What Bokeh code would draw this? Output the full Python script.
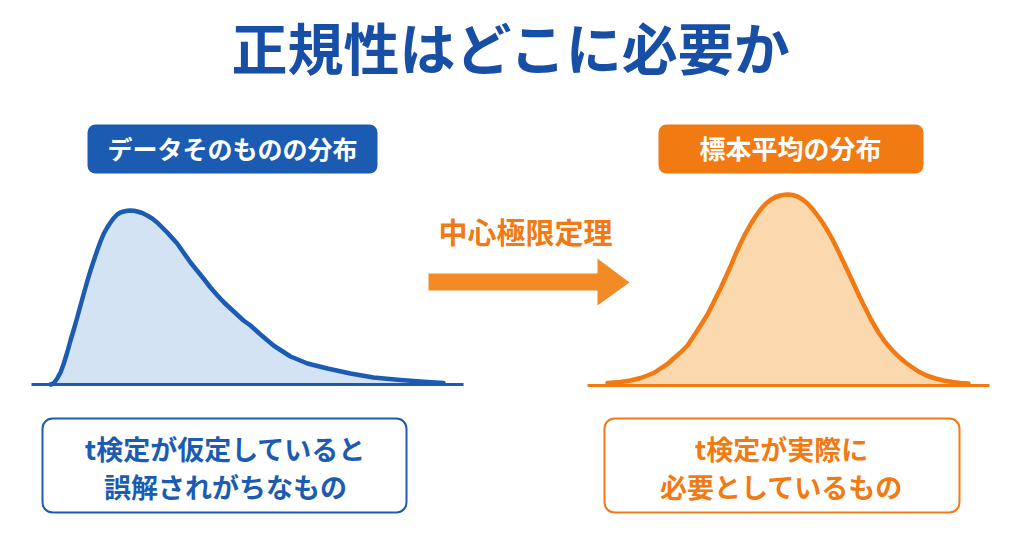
from bokeh.plotting import figure
from bokeh.models import Range1d
from bokeh.embed import file_html
from bokeh.resources import INLINE
from bokeh.core.properties import value

# ---- data ----
title = "正規性はどこに必要か"
left_label = "データそのものの分布"
right_label = "標本平均の分布"
arrow_label = "中心極限定理"
left_note = ["t検定が仮定していると", "誤解されがちなもの"]
right_note = ["t検定が実際に", "必要としているもの"]

# skewed data distribution (x position, curve height)
skew_x = [50, 53, 56.7, 60, 63.3, 66.7, 70, 73.3, 76.7, 80, 83.3, 86.7, 90, 93.3, 96.7,
          100, 103.3, 106.7, 110, 113.3, 116.7, 120, 123.3, 126.7, 130, 133.3, 136.7,
          141.7, 146.7, 151.7, 156.7, 161.7, 166.7, 171.7, 176.7, 183, 190, 196.5, 203,
          210, 217, 223.5, 230, 236.5, 243, 250, 260, 273, 290, 307, 327, 350, 373, 400,
          427, 443]
skew_y = [384, 383, 378, 372, 363, 352, 340, 329, 317, 305, 293, 281, 270, 260, 250,
          241, 233, 227, 222, 217.5, 214, 212, 211, 210.3, 210, 210.3, 211,
          212.5, 215, 218, 222, 227, 232, 237.5, 243, 252, 262, 270, 278,
          287, 295, 302, 308, 314, 320, 325, 334, 345, 356, 363, 368, 373, 377, 379.5,
          381.5, 382.5]

# normal sampling distribution
norm_x = [607, 620, 630, 640, 647, 654, 660, 667, 673, 680, 687, 693, 700, 707, 713,
          720, 725, 730, 735, 740, 745, 750, 755, 760, 765, 770, 775, 780, 784, 788,
          792, 797, 802, 807, 812, 817, 822, 827, 832, 837, 842, 847, 853, 859, 865,
          871, 878, 885, 892, 898, 905, 912, 918, 926, 935, 943, 952, 960, 968]
norm_y = [382.5, 381.5, 380, 377.5, 375, 372, 368, 363.5, 358, 352, 345, 336, 325, 314, 302,
          288, 277, 266, 254, 243, 233, 224, 216, 209, 203.5, 199.5, 196.5, 195, 194.3, 194,
          194.5, 196, 199, 203, 208.5, 215, 222, 230, 239, 249, 259.5, 270, 283, 296, 308,
          320, 332, 342, 350, 356, 362, 367, 371, 375, 378, 380, 381.5, 382.5, 383]

BLUE = "#1b5cb2"
BLUE_TITLE = "#174ea6"
BLUE_FILL = "#d3e3f4"
ORANGE = "#f27a12"
ORANGE_ARROW = "#f28a26"
ORANGE_FILL = "#fbd8ae"
FONT = value("Noto Sans CJK JP")

p = figure(width=1008, height=543, output_backend="svg", toolbar_location=None,
           x_range=Range1d(0, 1008), y_range=Range1d(543, 0),
           min_border=0, background_fill_color="white", border_fill_color="white")
p.axis.visible = False
p.grid.visible = False
p.outline_line_color = None

# title
p.text(x=[511], y=[45], text=[title], text_font=FONT, text_font_style="bold",
       text_font_size="56px", text_color=BLUE_TITLE, text_align="center",
       text_baseline="middle")

# header boxes
p.quad(left=[87], right=[377], top=[124], bottom=[173], fill_color=BLUE,
       line_color=None, border_radius=8)
p.quad(left=[658], right=[923], top=[124], bottom=[173], fill_color=ORANGE,
       line_color=None, border_radius=8)
p.text(x=[232], y=[147], text=[left_label], text_font=FONT, text_font_style="bold",
       text_font_size="25px", text_color="white", text_align="center",
       text_baseline="middle")
p.text(x=[790], y=[147], text=[right_label], text_font=FONT, text_font_style="bold",
       text_font_size="26px", text_color="white", text_align="center",
       text_baseline="middle")

# curves
base_l = skew_y[0]
p.varea(x=skew_x, y1=skew_y, y2=[base_l] * len(skew_x), fill_color=BLUE_FILL)
p.line(x=skew_x, y=skew_y, line_color=BLUE, line_width=4.5, line_join="round",
       line_cap="round")
p.line(x=[31, 463], y=[384, 384], line_color=BLUE, line_width=3)

base_r = 385
p.varea(x=norm_x, y1=norm_y, y2=[base_r] * len(norm_x), fill_color=ORANGE_FILL)
p.line(x=norm_x, y=norm_y, line_color=ORANGE, line_width=4.5, line_join="round",
       line_cap="round")
p.line(x=[587, 989], y=[385, 385], line_color=ORANGE, line_width=3)

# arrow
p.patch(x=[428, 597, 597, 629, 597, 597, 428],
        y=[273, 273, 258, 282, 305, 290, 290],
        fill_color=ORANGE_ARROW, line_color=None)
p.text(x=[525], y=[230], text=[arrow_label], text_font=FONT, text_font_style="bold",
       text_font_size="29px", text_color=ORANGE, text_align="center",
       text_baseline="middle")

# note boxes
p.quad(left=[42], right=[406], top=[418], bottom=[512], fill_color="white",
       line_color=BLUE, line_width=2, border_radius=10)
p.quad(left=[604], right=[959], top=[418], bottom=[512], fill_color="white",
       line_color=ORANGE, line_width=2, border_radius=10)
p.text(x=[225, 225], y=[448, 486], text=left_note, text_font=FONT,
       text_font_style="bold", text_font_size="27px", text_color=BLUE,
       text_align="center", text_baseline="middle")
p.text(x=[781, 781], y=[448, 486], text=right_note, text_font=FONT,
       text_font_style="bold", text_font_size="27px", text_color=ORANGE,
       text_align="center", text_baseline="middle")

open("out.html", "w").write(file_html(p, INLINE))
